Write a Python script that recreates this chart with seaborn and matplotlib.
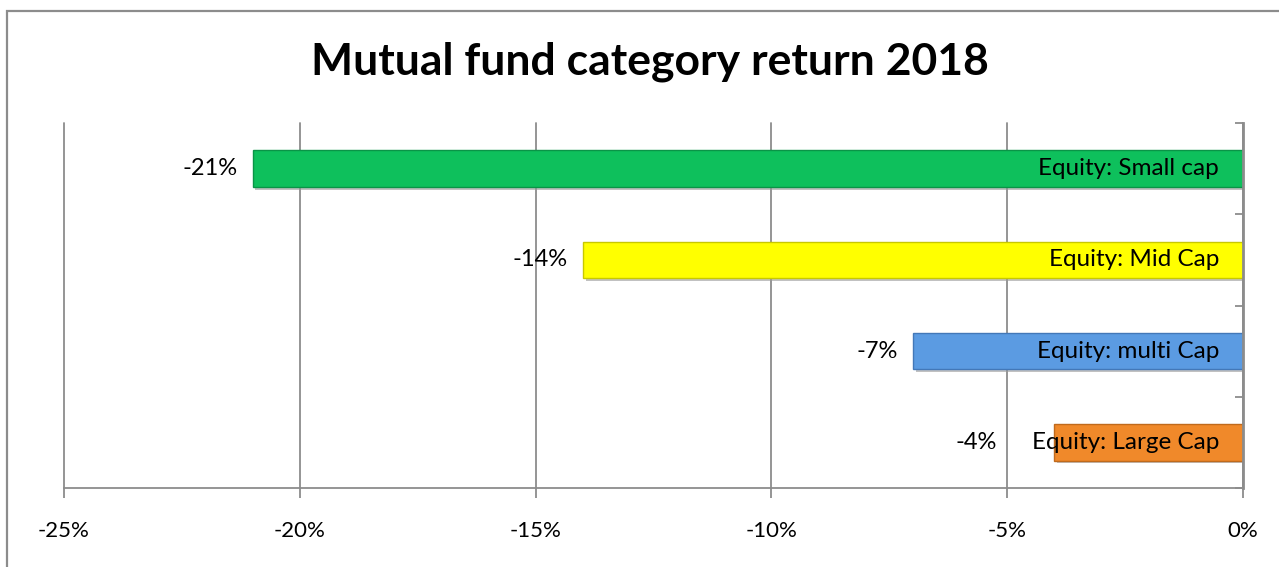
import numpy as np
import pandas as pd
import seaborn as sns
import matplotlib.pyplot as plt
import matplotlib.patheffects as pe
from matplotlib.patches import Rectangle
from matplotlib.ticker import PercentFormatter

# Chart data
categories = ["Equity: Small cap", "Equity: Mid Cap", "Equity: multi Cap", "Equity: Large Cap"]
returns = [-21, -14, -7, -4]
bar_colors = ["#0ec05c", "#ffff00", "#5b9be2", "#f0892a"]
edge_colors = ["#0a9447", "#c8c800", "#4378b8", "#c06a1c"]
x_ticks = [-25, -20, -15, -10, -5, 0]
title = "Mutual fund category return 2018"

df = pd.DataFrame({"category": categories, "return": returns})

sns.set_style("white")
plt.rcParams["font.family"] = ["Lato", "DejaVu Sans"]
plt.rcParams["axes.unicode_minus"] = False

fig = plt.figure(figsize=(12.79, 5.67), dpi=100)
ax = fig.add_axes([64 / 1279, 1 - 488 / 567, (1243 - 64) / 1279, (488 - 123) / 567])

sns.barplot(data=df, x="return", y="category", hue="category", palette=bar_colors,
            legend=False, width=0.4, orient="h", ax=ax, saturation=1)

for bar, ec in zip(ax.patches, edge_colors):
    bar.set_edgecolor(ec)
    bar.set_linewidth(1)
    bar.set_path_effects([pe.SimplePatchShadow(offset=(2, -2), shadow_rgbFace="#999999", alpha=0.6),
                          pe.Normal()])

grey = "#8c8c8c"
ax.set_xlim(-25, 0)
ax.set_ylim(3.5, -0.5)
ax.set_xticks(x_ticks)
ax.xaxis.set_major_formatter(PercentFormatter(decimals=0))
ax.grid(axis="x", color=grey, linewidth=1.3)
ax.set_axisbelow(True)
for line in ax.get_xgridlines():
    line.set_clip_on(False)
ax.set_xlabel("")
ax.set_ylabel("")

# y axis sits at 0 (right side), with tick marks between categories
ax.yaxis.set_ticks_position("right")
ax.set_yticks([])
ax.set_yticks(np.arange(-0.5, len(categories), 1.0), minor=True)
ax.tick_params(axis="y", which="minor", direction="in", length=6, width=1.3, color=grey, right=True)
ax.tick_params(axis="x", which="major", direction="out", length=7, width=1.3, color=grey,
               bottom=True, labelsize=16, labelcolor="black", pad=17)

for side in ["top", "left"]:
    ax.spines[side].set_visible(False)
ax.spines["bottom"].set_color(grey)
ax.spines["bottom"].set_linewidth(1.3)
ax.spines["right"].set_color(grey)
ax.spines["right"].set_linewidth(2)

# category names inside the bar end, values outside
for i, (cat, val) in enumerate(zip(categories, returns)):
    ax.annotate(cat, xy=(0, i), xytext=(-24, 0), textcoords="offset pixels",
                ha="right", va="center", fontsize=17.5, color="black")
    anchor = min(val, -4.9)
    ax.annotate(f"{val}%", xy=(anchor, i), xytext=(-15, 0), textcoords="offset pixels",
                ha="right", va="center", fontsize=17, color="black")

fig.text(0.508, 1 - 62 / 567, title, ha="center", va="center", fontsize=32,
         fontweight="bold", color="black")

# outer chart border
fig.patches.append(Rectangle((7 / 1279, -0.2), 2, 1 - 11 / 567 + 0.2, transform=fig.transFigure,
                             fill=False, edgecolor=grey, linewidth=1.6, clip_on=False))

fig.savefig("out.png", dpi=100)
